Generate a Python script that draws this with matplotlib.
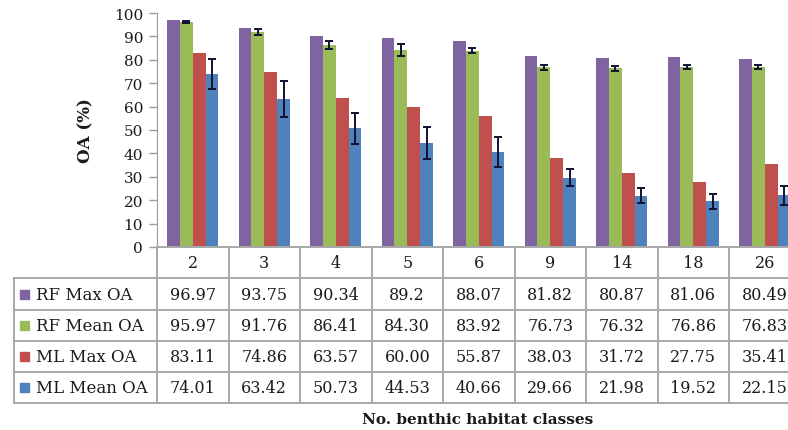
import matplotlib
matplotlib.use("Agg")
import matplotlib.pyplot as plt
import matplotlib.transforms as mtransforms
from matplotlib.lines import Line2D
from matplotlib.patches import Rectangle
import numpy as np

plt.rcParams['font.family'] = ['DejaVu Serif']

classes = ["2", "3", "4", "5", "6", "9", "14", "18", "26"]
series_names = ["RF Max OA", "RF Mean OA", "ML Max OA", "ML Mean OA"]
rf_max = ["96.97", "93.75", "90.34", "89.2", "88.07", "81.82", "80.87", "81.06", "80.49"]
rf_mean = ["95.97", "91.76", "86.41", "84.30", "83.92", "76.73", "76.32", "76.86", "76.83"]
ml_max = ["83.11", "74.86", "63.57", "60.00", "55.87", "38.03", "31.72", "27.75", "35.41"]
ml_mean = ["74.01", "63.42", "50.73", "44.53", "40.66", "29.66", "21.98", "19.52", "22.15"]
rf_mean_err = [0.4, 1.3, 1.6, 2.5, 1.2, 1.0, 0.9, 0.9, 0.9]
ml_mean_err = [6.3, 7.7, 6.6, 6.9, 6.5, 3.7, 3.1, 3.1, 4.1]
colors = ["#8064A2", "#9BBB59", "#C0504D", "#4F81BD"]

W, H = 788, 431
fig = plt.figure(figsize=(W / 100, H / 100), dpi=100)

# axes frame in pixel terms (right side runs past the canvas edge)
x0_px, y_top_px, y_bot_px, cat_px = 157, 14, 248, 71.5
ax = fig.add_axes([x0_px / W, 1 - y_bot_px / H, 9 * cat_px / W, (y_bot_px - y_top_px) / H])

series = [rf_max, rf_mean, ml_max, ml_mean]
errs = [None, rf_mean_err, None, ml_mean_err]
x = np.arange(len(classes))
bw = 0.18
for k, (vals, err, c) in enumerate(zip(series, errs, colors)):
    h = [float(v) for v in vals]
    pos = x + (k - 1.5) * bw
    ax.bar(pos, h, width=bw, color=c, edgecolor='none', zorder=2)
    if err is not None:
        ax.errorbar(pos, h, yerr=err, fmt='none', ecolor='#111133',
                    elinewidth=1.4, capsize=3.2, capthick=1.4, zorder=3)

ax.set_xlim(-0.5, len(classes) - 0.5)
ax.set_ylim(0, 100)
ax.set_yticks(np.arange(0, 101, 10))
ax.set_xticks([])
for s in ['top', 'right', 'bottom']:
    ax.spines[s].set_visible(False)
ax.spines['left'].set_color('#9a9a9a')
ax.tick_params(axis='y', colors='#9a9a9a', labelcolor='#1a1a1a', labelsize=11,
               length=6, width=1, pad=4)
ax.set_ylabel("OA (%)", fontsize=12, fontweight='bold', color='#1a1a1a', labelpad=14)

# data table beneath the bars
grid_c = '#a8a8a8'
tr = mtransforms.blended_transform_factory(ax.transData, fig.transFigure)
trA = mtransforms.blended_transform_factory(ax.transAxes, fig.transFigure)
fy = lambda ypx: 1 - ypx / H
rows_px = [248, 279, 311, 342, 373, 404]
left_ax = (14 - x0_px) / (9 * cat_px)

# horizontal rules
fig.add_artist(Line2D([-0.5, len(classes) - 0.5], [fy(248)] * 2, transform=tr,
                      color=grid_c, lw=1.4, clip_on=False))
for ypx in rows_px[1:]:
    fig.add_artist(Line2D([left_ax, 1.0], [fy(ypx)] * 2, transform=trA,
                          color=grid_c, lw=1.4, clip_on=False))
# vertical rules
for b in np.arange(-0.5, len(classes), 1.0):
    fig.add_artist(Line2D([b, b], [fy(248), fy(404)], transform=tr,
                          color=grid_c, lw=1.4, clip_on=False))
fig.add_artist(Line2D([left_ax, left_ax], [fy(279), fy(404)], transform=trA,
                      color=grid_c, lw=1.4, clip_on=False))

# header row
hdr_y = (rows_px[0] + rows_px[1]) / 2
for i, c in enumerate(classes):
    fig.text(i, fy(hdr_y), c, transform=tr, fontsize=11.5, color='#1a1a1a',
             ha='center', va='center')

# value rows with legend keys
for r, (name, vals, c) in enumerate(zip(series_names, series, colors)):
    yc = (rows_px[r + 1] + rows_px[r + 2]) / 2
    fig.add_artist(Rectangle((20 / W, fy(yc) - 4.5 / H), 9 / W, 9 / H,
                             transform=fig.transFigure, color=c, clip_on=False))
    fig.text(36 / W, fy(yc), name, fontsize=12, color='#1a1a1a', ha='left', va='center')
    for i, v in enumerate(vals):
        fig.text(i, fy(yc), v, transform=tr, fontsize=11.5, color='#1a1a1a',
                 ha='center', va='center')

fig.text(478 / W, fy(420), "No. benthic habitat classes", fontsize=11, fontweight='bold',
         color='#1a1a1a', ha='center', va='center')

fig.savefig("out.png", dpi=100)
